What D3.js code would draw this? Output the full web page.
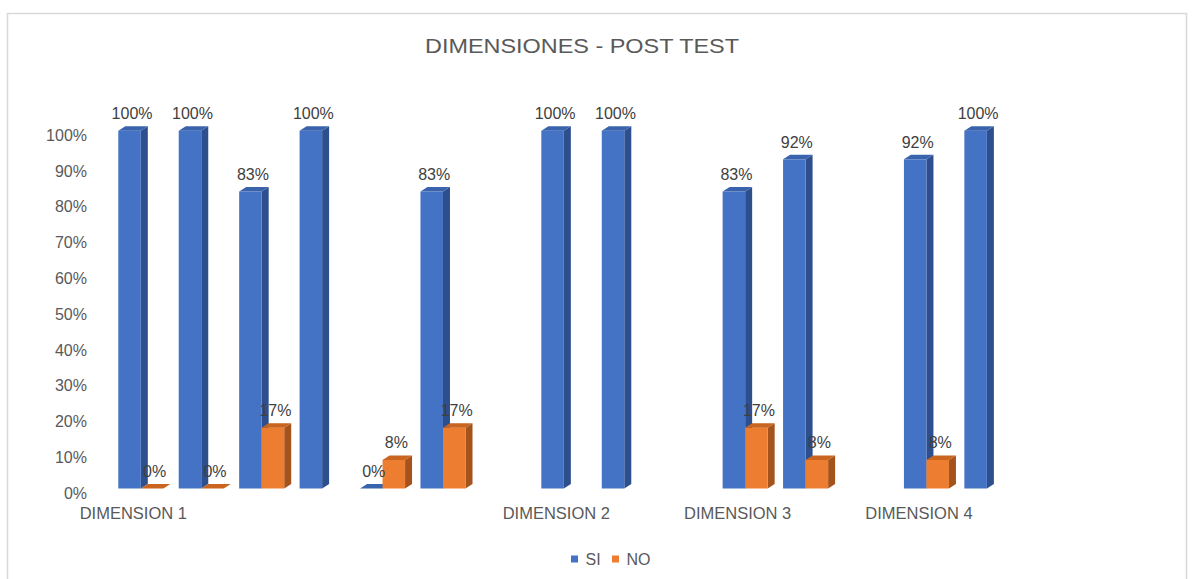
<!DOCTYPE html>
<html>
<head>
<meta charset="utf-8">
<script src="https://cdn.jsdelivr.net/npm/d3@7"></script>
<style>
  html, body { margin: 0; padding: 0; background: #ffffff; }
  svg { display: block; font-family: "Liberation Sans", Arial, sans-serif; }
</style>
</head>
<body>
<svg id="chart" width="1194" height="579"></svg>
<script>
// ---- data ----
const categories = ["DIMENSION 1", "", "", "", "", "", "", "DIMENSION 2", "", "", "DIMENSION 3", "", "", "DIMENSION 4", ""];
const seriesNames = ["SI", "NO"];
const siValues = [1.00, 1.00, 0.83, 1.00, 0.00, 0.83, null, 1.00, 1.00, null, 0.83, 0.92, null, 0.92, 1.00];
const noValues = [0.00, 0.00, 0.17, null, 0.08, 0.17, null, null, null, null, 0.17, 0.08, null, 0.08, null];
const yTicks = [0, 0.1, 0.2, 0.3, 0.4, 0.5, 0.6, 0.7, 0.8, 0.9, 1.0];
const titleText = "DIMENSIONES - POST TEST";

// ---- styles ----
const colors = {
  SI: { front: "#4472C4", side: "#2D4F8E", top: "#3A63AE" },
  NO: { front: "#ED7D31", side: "#A4531C", top: "#C9651F" }
};
const dx = 7, dy = 4.5;

const svg = d3.select("#chart");

// border
svg.append("rect").attr("x", 7.5).attr("y", 13.5).attr("width", 1179).attr("height", 600)
  .attr("fill", "none").attr("stroke", "#d9d9d9").attr("stroke-width", 1.5);

// scales
const ids = categories.map((c, i) => i);
const x = d3.scaleBand().domain(ids).range([110.6, 1017.1])
  .paddingInner(15.4 / 60.43).paddingOuter(7.7 / 60.43);
const xs = d3.scaleBand().domain(seriesNames).range([0, x.bandwidth()]).padding(0);
const y = d3.scaleLinear().domain([0, 1]).range([488.5, 130.7]);

// title
svg.append("text").attr("x", 582).attr("y", 52.5).attr("text-anchor", "middle")
  .attr("font-size", 21).attr("fill", "#595959")
  .attr("textLength", 314).attr("lengthAdjust", "spacingAndGlyphs")
  .text(titleText);

// y axis (labels only)
const yAxis = d3.axisLeft(y).tickValues(yTicks).tickFormat(d3.format(".0%")).tickSize(0).tickPadding(3);
const gy = svg.append("g").attr("transform", "translate(90,4.5)").call(yAxis);
gy.select(".domain").remove();
gy.selectAll("text").attr("font-size", 16).attr("fill", "#595959")
  .attr("font-family", "Liberation Sans, Arial, sans-serif");

// category labels
svg.append("g").selectAll("text").data(ids.filter(i => categories[i] !== ""))
  .join("text")
  .attr("x", i => x(i) + x.bandwidth() / 2 - 7.5)
  .attr("y", 519)
  .attr("text-anchor", "middle")
  .attr("font-size", 16.5).attr("fill", "#595959")
  .text(i => categories[i]);

// bars
const bars = [];
ids.forEach(i => {
  [["SI", siValues[i]], ["NO", noValues[i]]].forEach(([s, v]) => {
    if (v !== null && v !== undefined) bars.push({ i, s, v });
  });
});

const gBars = svg.append("g");
bars.forEach(b => {
  const x0 = x(b.i) + xs(b.s);
  const x1 = x0 + xs.bandwidth();
  const yt = y(b.v);
  const yb = y(0);
  const c = colors[b.s];
  const g = gBars.append("g");
  g.append("polygon")
    .attr("points", [[x1, yb], [x1, yt], [x1 + dx, yt - dy], [x1 + dx, yb - dy]].map(p => p.join(",")).join(" "))
    .attr("fill", c.side);
  if (yb - yt > 0) {
    g.append("rect").attr("x", x0).attr("y", yt).attr("width", x1 - x0).attr("height", yb - yt)
      .attr("fill", c.front);
  }
  g.append("polygon")
    .attr("points", [[x0, yt], [x1, yt], [x1 + dx, yt - dy], [x0 + dx, yt - dy]].map(p => p.join(",")).join(" "))
    .attr("fill", c.top);
});

// data labels
svg.append("g").selectAll("text").data(bars).join("text")
  .attr("x", b => x(b.i) + xs(b.s) + xs.bandwidth() / 2 + dx / 2 - 1)
  .attr("y", b => y(b.v) - 11.5)
  .attr("text-anchor", "middle")
  .attr("font-size", 16).attr("fill", "#404040")
  .text(b => d3.format(".0%")(b.v));

// legend
const legend = svg.append("g");
const legendItems = [{ s: "SI", x: 571 }, { s: "NO", x: 612 }];
legendItems.forEach(l => {
  legend.append("rect").attr("x", l.x).attr("y", 555.5).attr("width", 7).attr("height", 7)
    .attr("fill", colors[l.s].front);
  legend.append("text").attr("x", l.x + 14.5).attr("y", 565)
    .attr("font-size", 16).attr("fill", "#595959").text(l.s);
});
</script>
</body>
</html>
